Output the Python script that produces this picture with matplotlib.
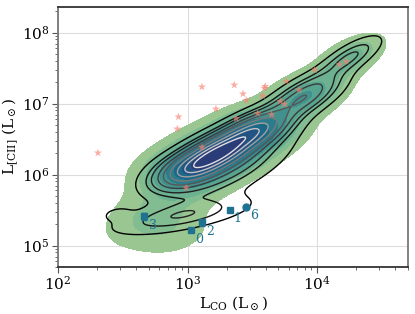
import numpy as np
import matplotlib
matplotlib.use("Agg")
import matplotlib.pyplot as plt
import seaborn as sns

# observed sources (stars)
star_lco = [203, 849, 830, 1288, 1288, 2286, 2669, 3966, 5765, 2830, 3781, 1651,
            7220, 9530, 14790, 16660, 5180, 5593, 2369, 3459, 4437, 973, 3900]
star_lcii = [2.02e6, 6.5e6, 4.4e6, 1.72e7, 2.43e6, 1.83e7, 1.37e7, 1.75e7, 2.06e7,
             1.11e7, 1.28e7, 8.4e6, 1.56e7, 2.98e7, 3.54e7, 3.94e7, 1.08e7, 9.8e6,
             6.15e6, 7.3e6, 7.0e6, 6.5e5, 1.65e7]

# labelled sources
src_id = ['0', '1', '2', '3', '6']
src_lco = [1058, 2102, 1288, 464, 2830]
src_lcii = [1.63e5, 3.21e5, 2.13e5, 2.59e5, 3.51e5]
src_err = [0, 0, 2.5e4, 3.0e4, 0]
src_marker = ['s', 's', 's', 's', 'o']

# density model for filled contours (log10 space): centre, angle, sd major/minor, weight
fill_cu = [3.00, 3.25, 3.52, 3.90, 4.25, 2.75, 2.92, 3.20]
fill_cv = [6.04, 6.30, 6.60, 7.10, 7.65, 5.40, 5.10, 6.30]
fill_ang = [47, 47, 48, 53, 55, 55, 45, 48]
fill_sa = [0.22, 0.22, 0.22, 0.25, 0.22, 0.30, 0.20, 0.60]
fill_sb = [0.18, 0.18, 0.17, 0.14, 0.11, 0.20, 0.14, 0.28]
fill_w = [0.6, 0.7, 0.6, 0.35, 0.15, 0.25, 0.04, 0.15]

# density model for line contours
line_cu = [3.00, 3.25, 3.52, 3.90, 4.25, 3.35, 2.95, 2.45]
line_cv = [6.06, 6.32, 6.62, 7.10, 7.65, 6.05, 5.42, 5.45]
line_ang = [47, 47, 48, 52, 53, 47, 20, 30]
line_sa = [0.22, 0.22, 0.22, 0.25, 0.22, 0.40, 0.35, 0.08]
line_sb = [0.13, 0.13, 0.12, 0.11, 0.08, 0.15, 0.12, 0.06]
line_w = [0.6, 0.7, 0.6, 0.35, 0.12, 0.3, 0.25, 0.01]


def mixture(U, V, cu, cv, ang, sa, sb, w):
    Z = np.zeros_like(U)
    for i in range(len(cu)):
        t = np.deg2rad(ang[i])
        du, dv = U - cu[i], V - cv[i]
        a = du * np.cos(t) + dv * np.sin(t)
        b = -du * np.sin(t) + dv * np.cos(t)
        Z += w[i] / (sa[i] * sb[i]) * np.exp(-0.5 * (a**2 / sa[i]**2 + b**2 / sb[i]**2))
    return Z


def iso_levels(Z, n=10, thresh=0.05):
    # same idea as seaborn: iso-proportion levels of the density mass
    props = np.linspace(thresh, 1, n)
    vals = np.sort(Z.ravel())[::-1]
    cum = np.cumsum(vals) / vals.sum()
    idx = np.searchsorted(cum, 1 - props)
    lev = np.take(vals, idx, mode='clip')
    return np.unique(lev)


plt.rcParams['font.family'] = 'serif'
plt.rcParams['font.serif'] = ['DejaVu Serif']
plt.rcParams['mathtext.fontset'] = 'dejavuserif'

fig, ax = plt.subplots(figsize=(4.15, 3.14), dpi=100)
fig.subplots_adjust(left=0.14, right=0.983, top=0.978, bottom=0.15)

u = np.linspace(1.9, 4.9, 400)
v = np.linspace(4.5, 8.6, 400)
U, V = np.meshgrid(u, v)

Zf = mixture(U, V, fill_cu, fill_cv, fill_ang, fill_sa, fill_sb, fill_w)
lev = iso_levels(Zf)
lev = np.append(lev, Zf.max() * 1.01)
ax.contourf(10**U, 10**V, Zf, levels=lev, cmap=sns.color_palette("crest", as_cmap=True), zorder=1)

Zl = mixture(U, V, line_cu, line_cv, line_ang, line_sa, line_sb, line_w)
lev2 = iso_levels(Zl)
ax.contour(10**U, 10**V, Zl, levels=lev2, cmap='gray', linewidths=1.0, zorder=2)

ax.scatter(star_lco, star_lcii, marker='*', s=38, color='salmon', alpha=0.65,
           edgecolor='none', zorder=3)

teal = '#1f7390'
for i in range(len(src_id)):
    ax.errorbar(src_lco[i], src_lcii[i], yerr=src_err[i] if src_err[i] else None,
                fmt=src_marker[i], ms=5, color=teal, capsize=2, zorder=4)
    ax.annotate(src_id[i], (src_lco[i], src_lcii[i]), xytext=(3, -9),
                textcoords='offset points', color=teal, fontsize=9, zorder=5)

ax.set_xscale('log')
ax.set_yscale('log')
ax.set_xlim(100, 5e4)
ax.set_ylim(5e4, 2.3e8)
ax.grid(True, which='major', color='#dddddd', lw=0.8, zorder=0)
ax.set_axisbelow(True)
ax.tick_params(labelsize=11, pad=2)
ax.tick_params(which='major', length=4, color='#555555')
ax.tick_params(which='minor', length=2, color='#555555')
for s in ['left', 'right']:
    ax.spines[s].set_color('#777777')
    ax.spines[s].set_linewidth(1.3)
for s in ['top', 'bottom']:
    ax.spines[s].set_color('#333333')
    ax.spines[s].set_linewidth(1.3)
ax.set_xlabel(r'L$_{\rm CO}$ (L$_\odot$)', fontsize=11, labelpad=1)
ax.set_ylabel(r'L$_{\rm [CII]}$ (L$_\odot$)', fontsize=11, labelpad=1)

fig.savefig('out.png', dpi=100)
